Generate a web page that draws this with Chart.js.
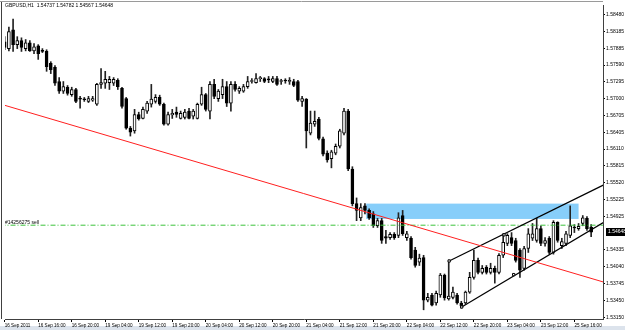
<!DOCTYPE html>
<html>
<head>
<meta charset="utf-8">
<script src="https://cdn.jsdelivr.net/npm/chart.js@4.4.1/dist/chart.umd.min.js"></script>
<style>
  html, body { margin: 0; padding: 0; background: #fff; }
</style>
</head>
<body>
<canvas id="myChart" width="625" height="330"></canvas>
<script>
  // GBPUSD H1 candles (bar 0 = 16 Sep 2011)
  const opens = [
    1.5800, 1.5788, 1.5821, 1.5795, 1.5802, 1.5788, 1.5798, 1.5784, 1.5793, 1.5784,
    1.5783, 1.5762, 1.5755, 1.5730, 1.5713, 1.5720, 1.5707, 1.5716, 1.5700, 1.5699,
    1.5695, 1.5697, 1.5690, 1.5725, 1.5727, 1.5728, 1.5727, 1.5732, 1.5718, 1.5700,
    1.5648, 1.5643, 1.5672, 1.5665, 1.5678, 1.5690, 1.5695, 1.5702, 1.5690, 1.5655,
    1.5671, 1.5676, 1.5665, 1.5667, 1.5678, 1.5669, 1.5665, 1.5690, 1.5707, 1.5678,
    1.5725, 1.5700, 1.5707, 1.5721, 1.5692, 1.5725, 1.5713, 1.5713, 1.5721, 1.5730,
    1.5728, 1.5735, 1.5735, 1.5734, 1.5730, 1.5735, 1.5730, 1.5732, 1.5730, 1.5730,
    1.5730, 1.5695, 1.5699, 1.5639, 1.5655, 1.5664, 1.5629, 1.5604, 1.5594, 1.5604,
    1.5616, 1.5639, 1.5678, 1.5576, 1.5515, 1.5490, 1.5511, 1.5503, 1.5497, 1.5476,
    1.5485, 1.5457, 1.5455, 1.5461, 1.5459, 1.5494, 1.5455, 1.5454, 1.5433, 1.5412,
    1.5420, 1.5345, 1.5354, 1.5340, 1.5354, 1.5389, 1.5347, 1.5350, 1.5354, 1.5340,
    1.5340, 1.5359, 1.5385, 1.5415, 1.5394, 1.5403, 1.5394, 1.5401, 1.5394, 1.5424,
    1.5445, 1.5455, 1.5450, 1.5433, 1.5401, 1.5436, 1.5454, 1.5450, 1.5471, 1.5445,
    1.5454, 1.5429, 1.5482, 1.5441, 1.5445, 1.5459, 1.5473, 1.5471, 1.5480, 1.5489,
    1.54737
  ];
  const highs = [
    1.5809, 1.5826, 1.5840, 1.5809, 1.5807, 1.5804, 1.5802, 1.5797, 1.5795, 1.5788,
    1.5786, 1.5765, 1.5758, 1.5737, 1.5730, 1.5723, 1.5720, 1.5718, 1.5704, 1.5702,
    1.5704, 1.5704, 1.5727, 1.5753, 1.5748, 1.5739, 1.5737, 1.5735, 1.5720, 1.5702,
    1.5651, 1.5681, 1.5676, 1.5685, 1.5695, 1.5725, 1.5707, 1.5706, 1.5692, 1.5676,
    1.5681, 1.5685, 1.5678, 1.5681, 1.5683, 1.5681, 1.5692, 1.5720, 1.5709, 1.5730,
    1.5734, 1.5716, 1.5734, 1.5730, 1.5730, 1.5730, 1.5721, 1.5725, 1.5739, 1.5735,
    1.5744, 1.5739, 1.5737, 1.5739, 1.5739, 1.5739, 1.5734, 1.5735, 1.5737, 1.5734,
    1.5732, 1.5704, 1.5700, 1.5678, 1.5678, 1.5667, 1.5632, 1.5608, 1.5609, 1.5620,
    1.5646, 1.5683, 1.5681, 1.5580, 1.5525, 1.5515, 1.5515, 1.5506, 1.5501, 1.5489,
    1.5489, 1.5468, 1.5464, 1.5464, 1.5499, 1.5503, 1.5466, 1.5457, 1.5438, 1.5426,
    1.5424, 1.5357, 1.5357, 1.5361, 1.5392, 1.5391, 1.5413, 1.5368, 1.5357, 1.5343,
    1.5361, 1.5394, 1.5433, 1.5419, 1.5406, 1.5406, 1.5410, 1.5405, 1.5427, 1.5462,
    1.5462, 1.5464, 1.5454, 1.5436, 1.5440, 1.5471, 1.5480, 1.5489, 1.5476, 1.5455,
    1.5457, 1.5485, 1.5483, 1.5454, 1.5466, 1.5511, 1.5478, 1.5480, 1.5494, 1.5492,
    1.54782
  ];
  const lows = [
    1.5786, 1.5784, 1.5783, 1.5788, 1.5783, 1.5784, 1.5783, 1.5779, 1.5769, 1.5781,
    1.5748, 1.5744, 1.5723, 1.5709, 1.5709, 1.5706, 1.5704, 1.5693, 1.5683, 1.5695,
    1.5693, 1.5695, 1.5688, 1.5718, 1.5718, 1.5716, 1.5723, 1.5716, 1.5683, 1.5646,
    1.5634, 1.5639, 1.5662, 1.5664, 1.5674, 1.5685, 1.5692, 1.5688, 1.5653, 1.5653,
    1.5665, 1.5667, 1.5664, 1.5664, 1.5664, 1.5664, 1.5664, 1.5688, 1.5678, 1.5664,
    1.5700, 1.5695, 1.5700, 1.5686, 1.5678, 1.5713, 1.5709, 1.5711, 1.5718, 1.5727,
    1.5727, 1.5730, 1.5728, 1.5728, 1.5728, 1.5723, 1.5725, 1.5727, 1.5725, 1.5721,
    1.5695, 1.5686, 1.5613, 1.5636, 1.5651, 1.5627, 1.5599, 1.5588, 1.5578, 1.5601,
    1.5613, 1.5636, 1.5573, 1.5511, 1.5485, 1.5485, 1.5497, 1.5487, 1.5473, 1.5473,
    1.5445, 1.5445, 1.5452, 1.5452, 1.5455, 1.5459, 1.5450, 1.5417, 1.5403, 1.5406,
    1.5328, 1.5342, 1.5335, 1.5336, 1.5350, 1.5345, 1.5345, 1.5347, 1.5338, 1.5331,
    1.5338, 1.5357, 1.5382, 1.5391, 1.5391, 1.5391, 1.5391, 1.5375, 1.5391, 1.5420,
    1.5441, 1.5441, 1.5412, 1.5385, 1.5398, 1.5429, 1.5450, 1.5447, 1.5441, 1.5440,
    1.5426, 1.5426, 1.5447, 1.5436, 1.5441, 1.5455, 1.5464, 1.5468, 1.5476, 1.5468,
    1.54567
  ];
  const closes = [
    1.5790, 1.5818, 1.5795, 1.5802, 1.5790, 1.5798, 1.5784, 1.5791, 1.5779, 1.5783,
    1.5756, 1.5751, 1.5727, 1.5713, 1.5721, 1.5709, 1.5716, 1.5695, 1.5699, 1.5698,
    1.5700, 1.5700, 1.5725, 1.5728, 1.5734, 1.5734, 1.5734, 1.5721, 1.5686, 1.5648,
    1.5641, 1.5672, 1.5664, 1.5681, 1.5692, 1.5699, 1.5702, 1.5690, 1.5655, 1.5672,
    1.5674, 1.5672, 1.5674, 1.5676, 1.5665, 1.5678, 1.5690, 1.5707, 1.5681, 1.5725,
    1.5704, 1.5713, 1.5721, 1.5692, 1.5725, 1.5716, 1.5718, 1.5721, 1.5730, 1.5731,
    1.5735, 1.5736, 1.5730, 1.5733, 1.5735, 1.5725, 1.5731, 1.5731, 1.5732, 1.5723,
    1.5697, 1.5700, 1.5643, 1.5657, 1.5660, 1.5630, 1.5602, 1.5592, 1.5606, 1.5616,
    1.5643, 1.5678, 1.5576, 1.5515, 1.5503, 1.5508, 1.5503, 1.5490, 1.5476, 1.5485,
    1.5450, 1.5454, 1.5461, 1.5455, 1.5490, 1.5462, 1.5462, 1.5420, 1.5406, 1.5419,
    1.5345, 1.5350, 1.5336, 1.5357, 1.5389, 1.5349, 1.5352, 1.5359, 1.5340, 1.5335,
    1.5359, 1.5385, 1.5415, 1.5394, 1.5401, 1.5394, 1.5401, 1.5394, 1.5424, 1.5447,
    1.5459, 1.5445, 1.5415, 1.5398, 1.5436, 1.5462, 1.5462, 1.5471, 1.5445, 1.5450,
    1.5429, 1.5482, 1.5450, 1.5448, 1.5462, 1.5476, 1.5472, 1.5475, 1.5490, 1.5471,
    1.54648
  ];

  // one time label every 8 bars
  const timeLabels = [
    '16 Sep 2011', '16 Sep 16:00', '16 Sep 20:00', '19 Sep 04:00', '19 Sep 12:00',
    '19 Sep 20:00', '20 Sep 04:00', '20 Sep 12:00', '20 Sep 20:00', '21 Sep 04:00',
    '21 Sep 12:00', '21 Sep 20:00', '22 Sep 04:00', '22 Sep 12:00', '22 Sep 20:00',
    '23 Sep 04:00', '23 Sep 12:00', '25 Sep 16:00'
  ];
  const priceTicks = [
    1.58480, 1.58185, 1.57885, 1.57590, 1.57295, 1.57000, 1.56705, 1.56405, 1.56110,
    1.55815, 1.55520, 1.55225, 1.54925, 1.54335, 1.54040, 1.53745, 1.53450, 1.53150
  ];
  const lastPrice = 1.54648;
  const titleText = 'GBPUSD,H1  1.54737 1.54782 1.54567 1.54648';

  // drawn objects: [bar index, price]
  const redTrend = [[-0.4, 1.5689], [142.9, 1.5377]];
  const upperChannel = [[106.1, 1.5414], [143, 1.5548]];
  const lowerChannel = [[109.1, 1.5333], [143, 1.5482]];
  const channelPoints = [[106.1, 1.5414], [119.2, 1.5460], [109.1, 1.5333], [121.5, 1.5390]];
  const zoneBars = [86.3, 137.0];
  const zonePrices = [1.5515, 1.5488];
  const orderPrice = 1.5477;
  const orderText = '#14256275 sell';

  const bull = closes.map((c, i) => c > opens[i]);

  const bodies = closes.map((c, i) => ({ x: i, y: [opens[i], c] }));
  const wicks = closes.map((c, i) => ({ x: i, y: [lows[i], highs[i]] }));
  const toXY = pts => pts.map(p => ({ x: p[0], y: p[1] }));

  const mtPlugin = {
    id: 'mt4',
    beforeDraw(chart) {
      const ctx = chart.ctx;
      ctx.save();
      ctx.fillStyle = '#ffffff';
      ctx.fillRect(0, 0, chart.width, chart.height);
      ctx.fillStyle = '#dce3ec';
      ctx.fillRect(0, 326, chart.width, 4);
      ctx.restore();
    },
    beforeDatasetsDraw(chart) {
      const { ctx, scales: { x, y } } = chart;
      const x0 = x.getPixelForValue(zoneBars[0]);
      const x1 = x.getPixelForValue(zoneBars[1]);
      const y0 = y.getPixelForValue(zonePrices[0]);
      const y1 = y.getPixelForValue(zonePrices[1]);
      ctx.save();
      ctx.fillStyle = '#87cefa';
      ctx.fillRect(x0, y0, x1 - x0, y1 - y0);
      ctx.restore();
    },
    afterDraw(chart) {
      const { ctx, chartArea: a, scales: { y } } = chart;
      ctx.save();
      // frame
      ctx.strokeStyle = '#9a9a9a';
      ctx.lineWidth = 1;
      ctx.beginPath();
      ctx.moveTo(0, 1.5); ctx.lineTo(a.right, 1.5);
      ctx.stroke();
      ctx.strokeStyle = '#404040';
      ctx.beginPath();
      ctx.moveTo(1.5, 2); ctx.lineTo(1.5, a.bottom);
      ctx.stroke();
      // texts
      ctx.fillStyle = '#000';
      ctx.textBaseline = 'middle';
      ctx.textAlign = 'left';
      ctx.font = '5px "Liberation Sans", Arial, sans-serif';
      ctx.fillText(titleText, 5, 6);
      ctx.fillText(orderText, 5, y.getPixelForValue(orderPrice) - 3);
      // current price box
      const py = Math.round(y.getPixelForValue(lastPrice));
      ctx.fillStyle = '#000';
      ctx.fillRect(a.right + 3, py - 4, chart.width - a.right - 3, 8);
      ctx.fillStyle = '#fff';
      ctx.fillText(lastPrice.toFixed(5), a.right + 5, py);
      ctx.restore();
    }
  };

  const config = {
    data: {
      datasets: [
        {
          type: 'line',
          data: toXY(redTrend),
          borderColor: '#ff2020',
          borderWidth: 1,
          pointRadius: 0,
          order: 1
        },
        {
          type: 'line',
          data: toXY(upperChannel),
          borderColor: '#000',
          borderWidth: 1.2,
          pointRadius: 0,
          order: 1
        },
        {
          type: 'line',
          data: toXY(lowerChannel),
          borderColor: '#000',
          borderWidth: 1.2,
          pointRadius: 0,
          order: 1
        },
        {
          type: 'line',
          data: toXY(channelPoints),
          showLine: false,
          pointStyle: 'rect',
          pointRadius: 1.6,
          pointBackgroundColor: '#fff',
          pointBorderColor: '#000',
          pointBorderWidth: 1,
          order: 0
        },
        {
          type: 'line',
          data: [{ x: -1, y: orderPrice }, { x: 144, y: orderPrice }],
          borderColor: '#3cc23c',
          borderWidth: 1,
          borderDash: [5, 2, 1, 2],
          pointRadius: 0,
          order: 1
        },
        {
          type: 'bar',
          data: bodies,
          backgroundColor: bull.map(b => b ? '#ffffff' : '#000000'),
          borderColor: '#000',
          borderWidth: 1,
          borderSkipped: false,
          barThickness: 3,
          minBarLength: 1,
          grouped: false,
          order: 2
        },
        {
          type: 'bar',
          data: wicks,
          backgroundColor: '#222',
          barThickness: 1,
          grouped: false,
          order: 3
        }
      ]
    },
    options: {
      responsive: false,
      animation: false,
      events: [],
      layout: { padding: { left: 2, top: 3, right: 0, bottom: 0 } },
      plugins: { legend: { display: false }, tooltip: { enabled: false } },
      scales: {
        x: {
          type: 'linear',
          offset: false,
          min: 0.07,
          max: 142.83,
          afterFit: s => { s.height = 11; },
          afterBuildTicks: s => { s.ticks = timeLabels.map((t, k) => ({ value: k * 8 })); },
          ticks: {
            autoSkip: false,
            maxRotation: 0,
            align: 'start',
            padding: 1,
            color: '#000',
            font: { family: '"Liberation Sans", Arial, sans-serif', size: 4.6 },
            callback: v => timeLabels[Math.round(v / 8)]
          },
          grid: { offset: false, drawOnChartArea: false, tickLength: 3, color: '#000' },
          border: { color: '#404040' }
        },
        y: {
          type: 'linear',
          position: 'right',
          min: 1.53118,
          max: 1.58648,
          afterFit: s => { s.width = 22; },
          afterBuildTicks: s => { s.ticks = priceTicks.map(v => ({ value: v })); },
          ticks: {
            padding: 1,
            color: '#000',
            font: { family: '"Liberation Sans", Arial, sans-serif', size: 5 },
            callback: v => v.toFixed(5)
          },
          grid: { drawOnChartArea: false, tickLength: 2, color: '#000' },
          border: { color: '#404040' }
        }
      }
    },
    plugins: [mtPlugin]
  };

  const myChart = new Chart(document.getElementById('myChart'), config);
</script>
</body>
</html>
